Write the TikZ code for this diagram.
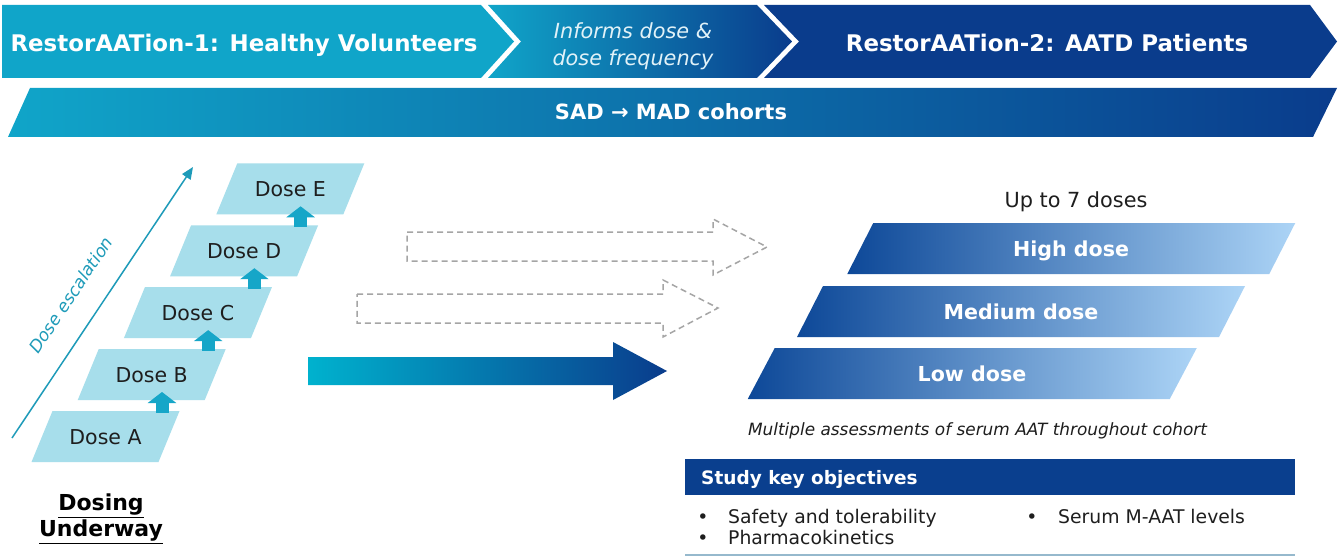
\documentclass[tikz,border=0pt]{standalone}
\usepackage{fontspec}
\setmainfont{DejaVu Sans}
\usetikzlibrary{arrows.meta,calc}
\definecolor{teal1}{RGB}{16,165,201}
\definecolor{navy1}{RGB}{10,60,140}
\definecolor{doselight}{RGB}{167,222,235}
\definecolor{arrteal}{RGB}{22,166,200}
\definecolor{esccol}{RGB}{30,155,185}
\definecolor{bandlight}{RGB}{172,212,246}
\definecolor{banddark}{RGB}{13,72,152}
\definecolor{dashgray}{RGB}{165,165,165}
\definecolor{barblue}{RGB}{10,63,142}
\definecolor{lineblue}{RGB}{150,185,205}
\definecolor{txt}{RGB}{30,30,30}
\definecolor{arrstart}{RGB}{0,178,206}
\newcommand\mypara[6]{% style, cx, cy, half width, half height, half skew
  \path[#1] ({#2-#4+#6},{#3-#5}) -- ({#2+#4+#6},{#3-#5}) -- ({#2+#4-#6},{#3+#5}) -- ({#2-#4-#6},{#3+#5}) -- cycle;}
\tikzset{
  lbl/.style={inner sep=0pt, text height=#1, text depth=0pt},
  bannertxt/.style={lbl=16.7pt, text=white, font=\bfseries\fontsize{22.9}{27}\selectfont},
  infotxt/.style={inner sep=0pt, align=center, text={rgb,255:red,225;green,242;blue,248}, font=\itshape\fontsize{20.8}{27}\selectfont},
  dosetxt/.style={lbl=15pt, text=txt, font=\fontsize{20.5}{24}\selectfont},
  bandtxt/.style={lbl=15pt, text=white, font=\bfseries\fontsize{20.6}{24}\selectfont},
  bodytxt/.style={lbl=13.7pt, text=txt, font=\fontsize{18.8}{22}\selectfont},
  steparrow/.style={draw=arrteal, line width=13pt, -{Triangle[width=28pt,length=11pt]}},
  escarrow/.style={draw=esccol, line width=1.5pt, -{Triangle[width=10pt,length=12pt]}},
  dasharrow/.style={draw=dashgray, line width=1.5pt, dash pattern=on 6pt off 4pt},
}
\begin{document}
\begin{tikzpicture}[x=1pt,y=-1pt]
\useasboundingbox (0,0) rectangle (1340,556);
\fill[white] (0,0) rectangle (1340,556);

% ---- top banner
\fill[teal1] (2,5) -- (481,5) -- (514,41.5) -- (481,78) -- (2,78) -- cycle;
\shade[left color=teal1, right color=navy1] (488,5) -- (757,5) -- (792,41.5) -- (757,78) -- (488,78) -- (521,41.5) -- cycle;
\fill[navy1] (764,5) -- (1310,5) -- (1337,41.5) -- (1310,78) -- (764,78) -- (799,41.5) -- cycle;
\node[bannertxt] (hv) at (244,43) {RestorAATion-1: Healthy Volunteers};
\node[infotxt] (inf) at (633,46) {Informs dose \&\\dose frequency};
\node[bannertxt] (pat) at (1047,43) {RestorAATion-2: AATD Patients};

% ---- second band
\shade[left color=teal1, right color=navy1] (8,137) -- (30,88) -- (1337,88) -- (1313,137) -- cycle;
\node[bannertxt, lbl=15.3pt, font=\bfseries\fontsize{21}{25}\selectfont] (sad) at (671,112) {SAD → MAD cohorts};

% ---- dose escalation
\coordinate (escS) at (12,438);
\coordinate (escE) at (193,167);
\draw[escarrow] (escS) -- (escE);
\node[lbl=12.5pt, text=esccol, font=\itshape\fontsize{17.1}{20}\selectfont, rotate=56.3] (esclbl) at (71,295) {Dose escalation};

\foreach \i/\l in {0/A,1/B,2/C,3/D,4/E}{
  \pgfmathsetmacro\cx{105.5+46.2*\i}
  \pgfmathsetmacro\cy{436.5-61.9*\i}
  \mypara{fill=doselight}{\cx}{\cy}{63.5}{25.5}{10.5}
  \node[dosetxt] (dose\l) at (\cx,\cy) {Dose \l};
}
\foreach \a/\b in {A/B,B/C,C/D,D/E}{
  \draw[steparrow] ($(dose\a)+(56.5,-24)$) -- ($(dose\b)+(10.3,17.4)$);
}

\node[inner sep=0pt, align=center, text=black, font=\bfseries\fontsize{22}{26}\selectfont] (dosing) at (101,519) {\underline{Dosing}\\\underline{Underway}};

% ---- middle arrows
\draw[dasharrow] (407,232) -- (713,232) -- (713,219) -- (767,247) -- (713,275) -- (713,261) -- (407,261) -- cycle;
\draw[dasharrow] (357,294) -- (663,294) -- (663,280) -- (718,308) -- (663,337) -- (663,323) -- (357,323) -- cycle;
\shade[left color=arrstart, right color=navy1] (308,357) -- (613,357) -- (613,342) -- (667,371) -- (613,400) -- (613,385) -- (308,385) -- cycle;

% ---- right part
\node[lbl=15.2pt, text=txt, font=\fontsize{20.8}{24}\selectfont] (upto) at (1076,200) {Up to 7 doses};
\mypara{left color=banddark, right color=bandlight}{1071.25}{248.5}{211}{25.5}{13}
\mypara{left color=banddark, right color=bandlight}{1021}{311.5}{211}{25.5}{13}
\mypara{left color=banddark, right color=bandlight}{972.25}{373.5}{211}{25.5}{13.5}
\node[bandtxt] (high) at (1071,249) {High dose};
\node[bandtxt] (med) at (1021,312) {Medium dose};
\node[bandtxt] (low) at (972,374) {Low dose};
\node[lbl=12.3pt, text=txt, font=\itshape\fontsize{16.9}{20}\selectfont] (multi) at (977.5,429) {Multiple assessments of serum AAT throughout cohort};

\fill[barblue] (685,459) rectangle (1295,495);
\node[lbl=13.5pt, anchor=west, text=white, font=\bfseries\fontsize{18.5}{22}\selectfont] (skobj) at (701,477.5) {Study key objectives};
\node[bodytxt] (bu1) at (703,517) {•};
\node[bodytxt, anchor=west] (o1) at (728,517) {Safety and tolerability};
\node[bodytxt] (bu2) at (703,538) {•};
\node[bodytxt, anchor=west] (o2) at (728,538) {Pharmacokinetics};
\node[bodytxt] (bu3) at (1032,517) {•};
\node[bodytxt, anchor=west] (o3) at (1058,517) {Serum M-AAT levels};
\coordinate (lnL) at (685,555);
\coordinate (lnR) at (1295,555);
\draw[lineblue, line width=1.2pt] (lnL) -- (lnR);
\end{tikzpicture}
\end{document}
